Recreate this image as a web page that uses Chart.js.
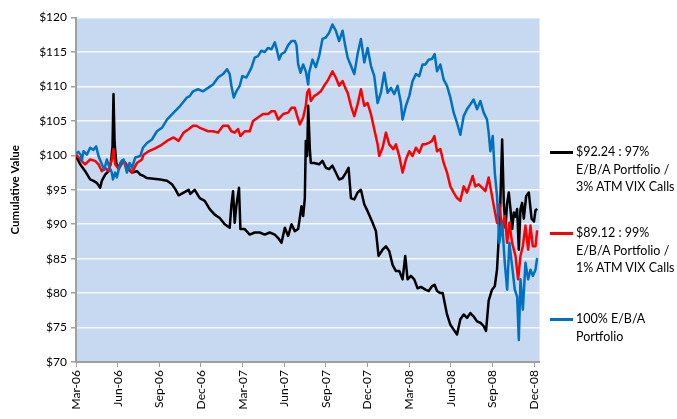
<!DOCTYPE html>
<html>
<head>
<meta charset="utf-8">
<script src="https://cdn.jsdelivr.net/npm/chart.js@4/dist/chart.umd.min.js"></script>
<style>
  body { margin: 0; background: #fff; }
  #wrap { position: relative; width: 677px; height: 419px; }
  .legend { position: absolute; left: 550px; top: 0; font-family: Lato, "Open Sans", sans-serif; font-size: 12.5px; line-height: 17.5px; color: #000; }
  .legend .item { position: absolute; left: 0; white-space: nowrap; }
  .legend .swatch { position: absolute; left: 0; top: 7.5px; width: 23px; height: 3px; }
  .legend .text { position: absolute; left: 26px; top: 0; }
</style>
</head>
<body>
<div id="wrap">
  <canvas id="chart" width="677" height="419"></canvas>
  <div class="legend">
    <div class="item" style="top:143px"><div class="swatch" style="background:#000"></div><div class="text">$92.24 : 97%<br>E/B/A Portfolio /<br>3% ATM VIX Calls</div></div>
    <div class="item" style="top:224px"><div class="swatch" style="background:#ff0000"></div><div class="text">$89.12 : 99%<br>E/B/A Portfolio /<br>1% ATM VIX Calls</div></div>
    <div class="item" style="top:310px"><div class="swatch" style="background:#0070c0"></div><div class="text">100% E/B/A<br>Portfolio</div></div>
  </div>
</div>
<script>
// x values are months since Mar-06
const tickLabels = ["Mar-06", "Jun-06", "Sep-06", "Dec-06", "Mar-07", "Jun-07", "Sep-07", "Dec-07", "Mar-08", "Jun-08", "Sep-08", "Dec-08"];

const blackX = [0.01,0.30,0.66,1.02,1.26,1.50,1.74,1.86,2.10,2.34,2.51,2.63,2.70,2.78,2.90,3.07,3.31,3.55,3.79,4.03,4.39,4.63,4.87,5.11,5.59,6.07,6.55,6.91,7.15,7.39,7.75,8.11,8.23,8.55,8.91,9.27,9.63,9.99,10.35,10.71,11.07,11.19,11.31,11.43,11.55,11.74,11.84,12.15,12.51,12.87,13.23,13.59,13.95,14.32,14.56,14.80,15.04,15.28,15.52,15.76,16.00,16.24,16.36,16.48,16.55,16.65,16.72,16.84,16.91,17.15,17.51,17.75,17.99,18.23,18.47,18.71,18.95,19.20,19.44,19.63,19.80,20.04,20.28,20.52,20.76,21.00,21.36,21.60,21.79,22.08,22.32,22.56,22.80,23.04,23.28,23.52,23.71,23.88,24.12,24.36,24.60,24.84,25.16,25.40,25.64,25.83,26.00,26.24,26.41,26.55,26.72,26.96,27.20,27.44,27.68,27.92,28.16,28.40,28.64,28.88,29.12,29.36,29.53,29.72,29.96,30.16,30.32,30.44,30.56,30.69,30.81,30.93,31.05,31.17,31.29,31.41,31.53,31.65,31.77,31.89,32.01,32.13,32.25,32.42,32.61,32.81,32.98,33.09,33.21];
const blackY = [99.9,98.7,97.7,96.5,96.3,96.0,95.3,96.3,97.2,97.7,98.9,101.3,108.9,101.8,98.9,98.2,99.2,98.9,98.0,97.5,97.7,97.2,97.0,96.7,96.6,96.5,96.3,95.8,95.1,94.2,94.6,95.0,94.4,95.0,93.8,93.4,92.2,91.4,90.9,90.0,89.5,92.7,94.8,90.2,92.7,95.3,89.3,89.3,88.5,88.8,88.8,88.5,88.8,88.5,88.0,87.3,89.5,88.3,90.0,89.0,89.3,92.6,91.2,93.8,102.1,99.9,107.2,100.9,98.9,98.9,98.7,99.2,98.2,98.0,98.5,97.5,96.5,96.7,97.5,98.2,93.8,93.6,94.6,95.0,92.9,91.9,90.2,89.0,85.4,86.3,86.8,86.1,84.1,83.2,83.2,82.0,85.4,82.0,82.5,82.0,80.7,80.9,80.5,80.3,81.0,81.2,80.3,80.0,80.0,78.6,76.9,75.4,74.7,74.0,76.2,76.9,76.4,77.1,76.6,75.9,75.7,75.2,74.5,78.9,80.5,81.0,83.4,87.8,93.1,102.3,93.1,89.5,93.1,94.6,92.2,89.3,91.7,91.1,92.2,86.3,92.2,93.1,90.8,94.1,94.6,90.8,90.4,92.0,92.24];

const redX = [0.01,0.30,0.66,1.02,1.38,1.62,1.86,2.10,2.34,2.58,2.70,2.82,3.07,3.43,3.79,4.03,4.39,4.75,4.87,5.23,5.59,6.07,6.55,7.03,7.39,7.75,8.11,8.43,8.67,8.91,9.15,9.51,9.87,10.23,10.59,10.95,11.19,11.43,11.67,11.84,12.15,12.51,12.75,13.11,13.47,13.83,14.08,14.32,14.56,14.92,15.28,15.52,15.76,15.93,16.12,16.36,16.55,16.65,16.79,16.91,17.15,17.39,17.63,17.87,18.11,18.47,18.71,18.95,19.20,19.39,19.56,19.80,20.04,20.28,20.52,20.76,21.00,21.24,21.48,21.72,21.84,22.08,22.32,22.56,22.85,23.04,23.28,23.52,23.76,24.00,24.24,24.48,24.72,24.96,25.16,25.40,25.64,25.81,26.00,26.24,26.48,26.72,26.96,27.20,27.44,27.68,27.92,28.16,28.40,28.57,28.76,29.00,29.24,29.48,29.72,29.96,30.16,30.32,30.49,30.69,30.88,31.05,31.21,31.41,31.65,31.84,32.01,32.18,32.37,32.56,32.73,32.90,33.09,33.21];
const redY = [100.1,99.4,98.7,99.4,99.2,98.7,97.7,98.2,97.7,99.4,100.9,98.7,98.0,99.2,98.2,97.5,98.9,99.4,100.1,100.6,100.9,101.4,102.1,102.6,102.1,103.3,103.8,104.3,104.3,104.0,103.8,103.5,103.5,103.3,104.3,104.3,103.5,103.3,103.8,102.8,103.5,103.5,105.0,105.5,106.0,106.0,106.4,106.4,105.2,106.0,106.2,106.9,106.9,105.7,104.5,105.5,107.2,109.1,109.6,107.9,108.6,108.9,109.3,110.1,110.8,112.2,111.3,110.1,110.8,109.8,109.1,107.2,105.7,107.4,109.6,107.2,107.6,106.0,103.8,101.6,99.9,101.1,103.3,101.6,100.9,101.6,99.9,97.5,99.4,100.6,99.9,101.1,100.4,101.6,101.6,101.8,102.1,102.8,100.6,100.9,98.9,97.5,95.5,94.6,93.8,93.4,95.5,94.6,96.0,97.0,95.5,95.8,95.3,94.8,96.8,94.1,91.9,90.2,92.9,89.3,91.2,87.3,90.2,87.3,85.4,82.0,85.4,86.8,89.8,86.3,89.8,86.8,86.8,89.12];

const blueX = [0.01,0.18,0.35,0.42,0.54,0.78,1.02,1.26,1.45,1.62,1.86,2.03,2.22,2.42,2.58,2.66,2.82,2.94,3.19,3.43,3.67,3.86,4.03,4.27,4.63,4.82,5.11,5.47,5.83,6.19,6.55,7.03,7.51,7.99,8.19,8.43,8.79,9.15,9.51,9.87,10.23,10.59,10.88,11.07,11.19,11.36,11.55,11.79,11.98,12.27,12.63,12.87,13.11,13.35,13.59,13.83,14.08,14.32,14.48,14.63,14.80,15.04,15.28,15.52,15.76,15.88,16.00,16.17,16.36,16.55,16.72,16.79,17.03,17.27,17.51,17.75,17.99,18.23,18.47,18.71,18.95,19.20,19.39,19.56,19.80,20.04,20.28,20.52,20.76,21.00,21.24,21.48,21.72,21.96,22.20,22.44,22.68,22.92,23.16,23.40,23.52,23.76,24.00,24.24,24.48,24.72,24.96,25.16,25.40,25.64,25.83,26.00,26.24,26.48,26.72,26.96,27.20,27.44,27.68,27.92,28.16,28.40,28.64,28.88,29.12,29.36,29.60,29.72,29.84,30.01,30.16,30.32,30.49,30.69,30.88,31.05,31.21,31.41,31.60,31.77,31.89,32.01,32.18,32.37,32.56,32.73,32.90,33.09,33.21];
const blueY = [100.3,100.5,100.0,99.3,100.6,100.1,101.1,100.8,101.3,99.9,98.7,97.9,99.4,98.2,97.5,96.5,97.5,96.8,98.9,99.4,97.5,98.9,98.2,99.7,99.9,101.1,101.8,102.3,103.5,104.0,105.2,106.2,107.2,108.4,108.6,109.3,109.6,109.3,109.8,110.3,111.3,111.8,112.5,111.8,110.1,108.4,109.3,110.1,111.5,111.3,112.7,114.2,114.4,115.2,115.0,115.6,115.4,116.4,115.2,113.9,114.7,115.0,116.0,116.6,116.6,116.0,113.2,112.0,113.2,112.2,110.3,112.0,113.9,112.8,114.4,116.9,117.1,117.8,119.0,118.1,116.6,118.1,115.9,114.2,113.0,111.8,114.7,116.9,113.5,115.6,113.0,111.5,107.6,109.1,112.0,109.1,109.8,108.9,110.1,107.6,105.2,107.2,108.6,110.8,111.8,111.5,113.2,113.2,113.9,114.0,114.7,112.2,113.2,111.0,110.1,108.4,106.2,104.7,103.0,105.7,106.7,107.4,108.1,106.7,107.9,106.2,105.2,103.3,100.6,102.8,97.5,94.1,87.3,90.2,84.4,80.5,87.3,83.9,80.5,79.5,73.2,82.0,77.6,84.4,82.0,83.4,82.5,83.4,85.1];

function pts(xs, ys) {
  return xs.map((x, i) => ({ x: x, y: ys[i] }));
}

// fond bleu de la zone de tracé
const plotBg = {
  id: "plotBg",
  beforeDraw(chart) {
    const { ctx, chartArea: a } = chart;
    ctx.save();
    ctx.fillStyle = "#c6d9f1";
    ctx.fillRect(a.left, a.top, a.right - a.left, a.bottom - a.top);
    ctx.restore();
  }
};

const axisGray = "#a0a0a0";

new Chart(document.getElementById("chart"), {
  type: "line",
  data: {
    datasets: [
      { label: "100% E/B/A Portfolio", data: pts(blueX, blueY), borderColor: "#0070c0" },
      { label: "$89.12 : 99% E/B/A Portfolio / 1% ATM VIX Calls", data: pts(redX, redY), borderColor: "#ff0000" },
      { label: "$92.24 : 97% E/B/A Portfolio / 3% ATM VIX Calls", data: pts(blackX, blackY), borderColor: "#000000" }
    ]
  },
  options: {
    responsive: false,
    animation: false,
    layout: { padding: { left: 0, top: 17.6, right: 137.5, bottom: 0 } },
    elements: {
      line: { borderWidth: 2.5, tension: 0, borderJoinStyle: "round" },
      point: { radius: 0 }
    },
    plugins: {
      legend: { display: false },
      tooltip: { enabled: false }
    },
    scales: {
      x: {
        type: "linear",
        min: 0,
        max: 33.38,
        afterFit(scale) { scale.height = 57; },
        ticks: {
          stepSize: 3,
          includeBounds: false,
          autoSkip: false,
          maxRotation: 90,
          minRotation: 90,
          padding: 3,
          color: "#000",
          font: { family: "Lato", size: 12 },
          callback: v => tickLabels[Math.round(v / 3)] || ""
        },
        grid: { drawOnChartArea: false, tickLength: 5, tickColor: axisGray },
        border: { color: axisGray, width: 2 }
      },
      y: {
        min: 70,
        max: 120,
        afterFit(scale) { scale.width = 76; },
        ticks: {
          stepSize: 5,
          padding: 4,
          color: "#000",
          font: { family: "Lato", size: 12 },
          callback: v => "$" + v
        },
        grid: { color: "rgba(255,255,255,0.85)", lineWidth: 1.5, tickLength: 5, tickColor: axisGray },
        border: { color: axisGray, width: 2 },
        title: {
          display: true,
          text: "Cumulative Value",
          color: "#000",
          font: { family: "Lato", size: 11.5, weight: "bold" },
          padding: { top: 8, bottom: 0 }
        }
      }
    }
  },
  plugins: [plotBg]
});
</script>
</body>
</html>
